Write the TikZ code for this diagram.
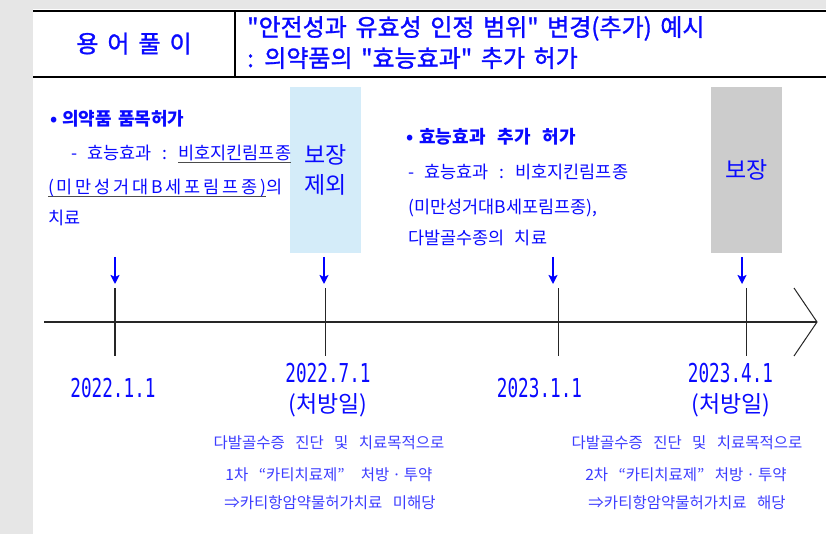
\documentclass[tikz,border=0pt]{standalone}
\usepackage{fontspec}
\setmainfont{Noto Sans CJK KR}[WordSpace=2.6]
\newfontfamily\hdfont{Noto Sans CJK KR}[FakeBold=1.2, WordSpace=1.6]
\newfontfamily\lowft{Noto Sans CJK KR}[WordSpace=3]
\newfontfamily\digitfont{DejaVu Sans Mono}
\usetikzlibrary{arrows.meta,calc}
\definecolor{txtblue}{RGB}{10,10,255}
\definecolor{lowblue}{RGB}{60,60,255}
\definecolor{boxblue}{RGB}{212,236,249}
\definecolor{boxgray}{RGB}{204,204,204}
\definecolor{bggray}{RGB}{230,230,230}
\newcommand\fsz[1]{\fontsize{#1pt}{#1pt}\selectfont}
\newcommand\gul[1]{\setbox0\hbox{#1}\rlap{\color{black!70}\rule[-3.5pt]{\wd0}{0.8pt}}\box0}
\newcommand\dte[1]{\scalebox{0.68}[1]{\digitfont\fsz{26}#1}}
\begin{document}
\begin{tikzpicture}[x=1pt,y=-1pt,
  every node/.style={inner sep=0pt, text=txtblue},
  body/.style={anchor=base west, font=\fsz{17.5}},
  head/.style={anchor=base west, font=\bfseries\fsz{18}},
  low/.style={anchor=base, font=\lowft\fsz{15.5}, text=lowblue},
  datelbl/.style={anchor=center},
  arr/.style={draw=blue, line width=1.8pt, -{Stealth[length=9pt,width=9pt,inset=2pt]}},
  tick/.style={line width=1pt, black!85},
  cover/.style={minimum width=71, minimum height=166, align=center, font=\fontsize{23pt}{30pt}\selectfont, text=txtblue}
]
\useasboundingbox (0,0) rectangle (826,534);
\fill[bggray] (0,0) rectangle (826,534);
\fill[white] (33,9) rectangle (826,534);

% header
\draw[line width=1.8pt] (33,11) -- (826,11);
\draw[line width=1.5pt] (33,77) -- (826,77);
\draw[line width=1.2pt] (235,11) -- (235,77);
\node[anchor=base, font=\hdfont\fsz{24}] (term) at (134,52.5) {용\hspace{9pt}어\hspace{9pt}풀\hspace{9pt}이};
\node[anchor=base west, font=\hdfont\fsz{24}] (title1) at (247,36) {"안전성과 유효성 인정 범위" 변경(추가) 예시};
\node[anchor=base west, font=\hdfont\fsz{24}] (title2) at (247,67) {: 의약품의 "효능효과" 추가 허가};

% coverage boxes
\node[cover, fill=boxblue] (nocov) at (325.5,170) {보장\\제외};
\node[cover, fill=boxgray] (cov) at (746.5,170) {보장};

% left block
\node[head] (lb1) at (50,126) {•\hspace{5pt}의약품\hspace{6pt}품목허가};
\node[body] (lb2) at (71,159.5) {- 효능효과 : \gul{비호지킨림프종}};
\node[body] (lb3) at (48,193.5) {\addfontfeature{LetterSpace=16}\gul{(미만성거대B세포림프종)}의};
\node[body] (lb4) at (48,224.5) {치료};

% right block
\node[head] (rb1) at (406,144) {•\hspace{6pt}효능효과\hspace{12pt}추가\hspace{12pt}허가};
\node[body] (rb2) at (408,178.5) {- 효능효과 : 비호지킨림프종};
\node[body] (rb3) at (408,213.5) {(미만성거대B세포림프종),};
\node[body] (rb4) at (408,244.5) {다발골수종의 치료};

% timeline
\coordinate (tl0) at (44,322);
\coordinate (tl1) at (817,322);
\coordinate (t1) at (115,322);
\coordinate (t2) at (325,322);
\coordinate (t3) at (558,322);
\coordinate (t4) at (746,322);
\draw[line width=2pt, black!85] (tl0) -- (tl1);
\draw[line width=1pt, black!85] ($(tl1)+(-23,-34)$) -- (tl1) -- ($(tl1)+(-23,34)$);
\draw[tick, line width=1.8pt] ($(t1)+(0,-34)$) -- ($(t1)+(0,34)$);
\draw[tick] ($(t2)+(0,-34)$) -- ($(t2)+(0,34)$);
\draw[tick] ($(t3)+(0,-34)$) -- ($(t3)+(0,34)$);
\draw[tick] ($(t4)+(0,-34)$) -- ($(t4)+(0,34)$);

% arrows
\coordinate (a1s) at (115,257); \coordinate (a1e) at (115,284);
\coordinate (a2s) at (324,257); \coordinate (a2e) at (324,284);
\coordinate (a3s) at (553,257); \coordinate (a3e) at (553,284);
\coordinate (a4s) at (742,257); \coordinate (a4e) at (742,284);
\draw[arr] (a1s) -- (a1e);
\draw[arr] (a2s) -- (a2e);
\draw[arr] (a3s) -- (a3e);
\draw[arr] (a4s) -- (a4e);

% dates
\node[datelbl] (d1) at (113,388) {\dte{2022.1.1}};
\node[datelbl] (d2) at (328,373) {\dte{2022.7.1}};
\node[datelbl, font=\fsz{23}] (d2b) at (328,405) {(처방일)};
\node[datelbl] (d3) at (539.5,388) {\dte{2023.1.1}};
\node[datelbl] (d4) at (730.5,373) {\dte{2023.4.1}};
\node[datelbl, font=\fsz{23}] (d4b) at (731,405) {(처방일)};

% bottom notes
\node[low] (n1a) at (329,448.5) {다발골수증 진단 및 치료목적으로};
\node[low] (n1b) at (329,480.5) {1차 “카티치료제”\hspace{16pt}처방\hspace{3pt}·\hspace{3pt}투약};
\node[low] (n1c) at (330,508.5) {⇒카티항암약물허가치료 미해당};
\node[low] (n2a) at (687,448.5) {다발골수증 진단 및 치료목적으로};
\node[low] (n2b) at (686,480.5) {2차 “카티치료제” 처방\hspace{3pt}·\hspace{3pt}투약};
\node[low] (n2c) at (687,508.5) {⇒카티항암약물허가치료 해당};
\end{tikzpicture}
\end{document}
